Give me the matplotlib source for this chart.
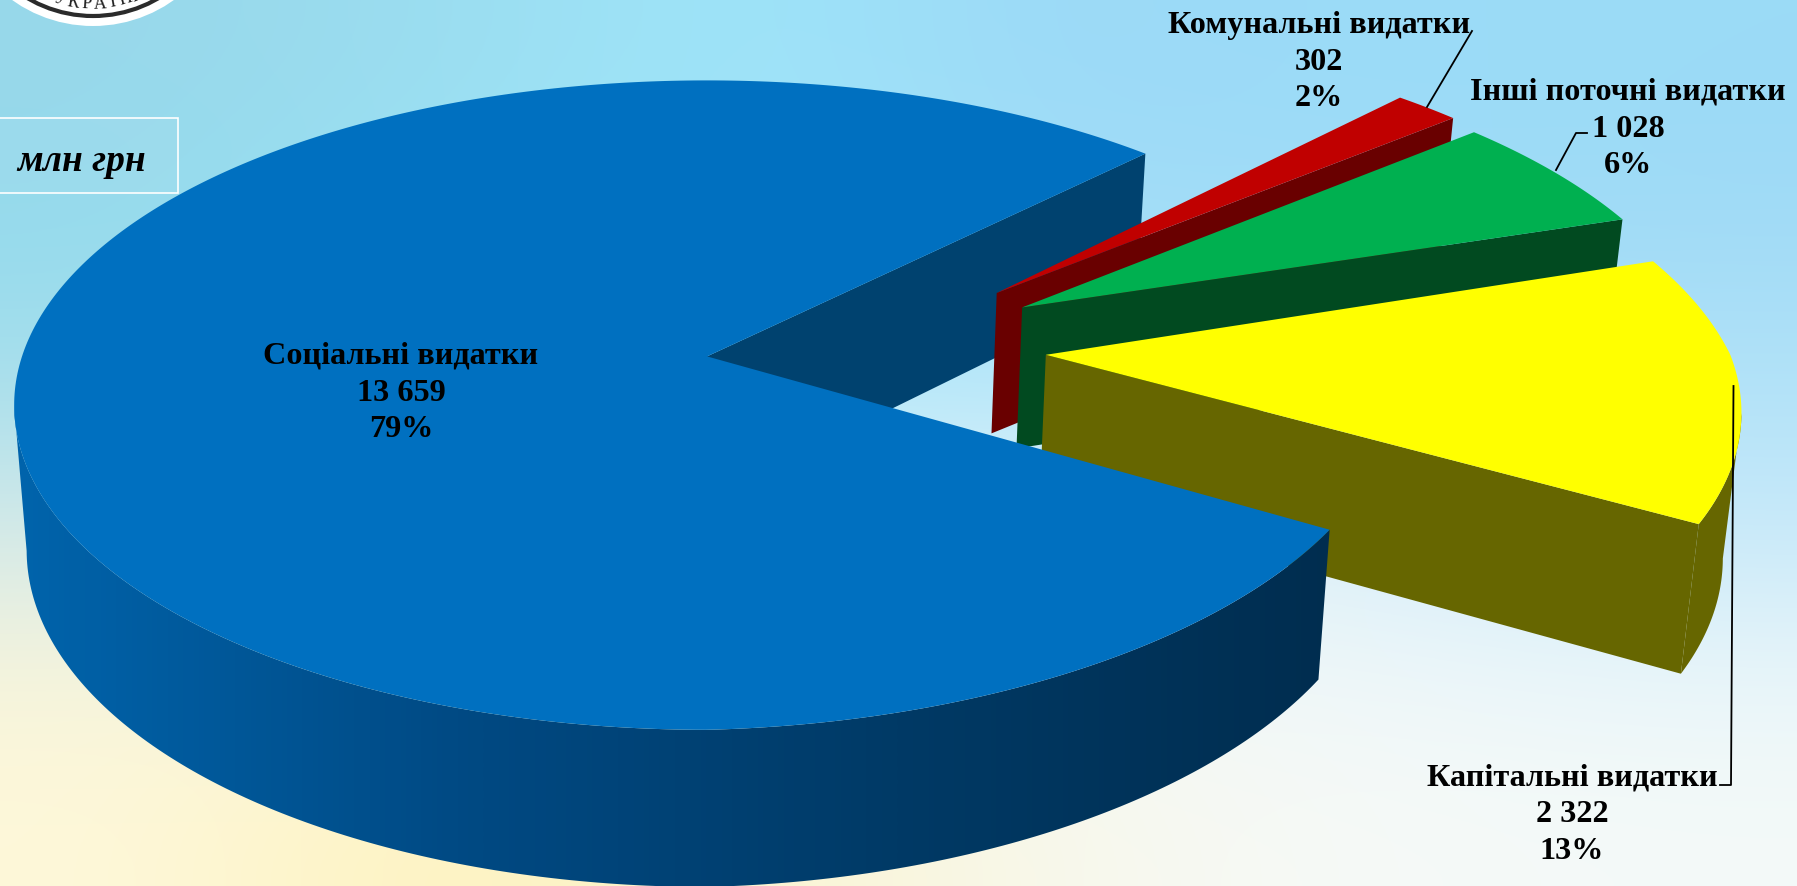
import numpy as np
from matplotlib import pyplot as plt
from matplotlib.colors import LinearSegmentedColormap, to_rgb
from matplotlib.patches import Circle, Polygon, Rectangle

categories = ['Соціальні видатки', 'Комунальні видатки', 'Інші поточні видатки', 'Капітальні видатки']
values = [13659, 302, 1028, 2322]
unit_label = 'млн грн'
logo_letters = ['У', 'К', 'Р', 'А', 'Ї', 'Н', 'И']

top_colors = ['#0070C0', '#C00000', '#00B050', '#FFFF00']
wall_colors = ['#00426F', '#690000', '#014A20', '#666600']
explode_x = [0, 0.436, 0.471, 0.495]
explode_y = [0, 0.206, 0.158, 0.005]
radius = [1, 1.018, 1.005, 1]
nudge = [0, 0.3, 0.3, 0.7]
label_pos = [(401, 393), (1319, 62), (1628, 129), (1572, 815)]

W, H = 1797, 886

# camera of the tilted pie, in pixels
cx, cy = 707, 356.4
a, s, k = 685, 317.4, 0.15


def project(X, Y, bottom=False):
    X = np.asarray(X, dtype=float)
    Yd = -np.asarray(Y, dtype=float)
    w = 1 - k * Yd
    x = cx + a * X / w
    y = cy + s * Yd / w
    if bottom:
        x = cx + (x - cx) * 0.982
        y = y + 143 / (1 - 0.09 * Yd)
    return x, y


def rim(i, t1, t2, bottom=False, n=120):
    t = np.deg2rad(np.linspace(t1, t2, n) + nudge[i])
    r = radius[i] * np.ones(n)
    if i in (0, 3):
        # lower right of these slices sits a bit inside the circle
        r = r - 0.045 * np.maximum(0, -np.sin(t)) * np.maximum(0, np.cos(t))
    return project(explode_x[i] + r * np.cos(t), explode_y[i] + r * np.sin(t), bottom)


def cut_face(i, angle, z):
    ox, oy = explode_x[i], explode_y[i]
    px, py = project(ox, oy)
    qx, qy = project(ox, oy, bottom=True)
    ex, ey = rim(i, angle, angle, n=1)
    fx, fy = rim(i, angle, angle, bottom=True, n=1)
    ax.fill([px, ex[0], fx[0], qx], [py, ey[0], fy[0], qy], color=wall_colors[i], lw=0, zorder=z)


fig = plt.figure(figsize=(W / 100, H / 100), dpi=100)
ax = fig.add_axes([0, 0, 1, 1])
ax.set_xlim(0, W)
ax.set_ylim(H, 0)
ax.axis('off')

bg_rows = [
    ['#98D8EA', '#9BDDF0', '#9FE6FA', '#9CD8F6', '#9BDCF8', '#9BDBF6'],
    ['#94DAEC', '#9BE4F6', '#A0E8FA', '#A4DCF8', '#9FDDF8', '#A0DAF6'],
    ['#A4DEEC', '#A6E6F6', '#B0E8FA', '#B4E6FA', '#AEE2F8', '#B0E2F8'],
    ['#D0E8EA', '#D8F0F2', '#DCF2F8', '#E0F2FA', '#D8EEF8', '#C4E8FA'],
    ['#F6F4DC', '#F8F6E0', '#F6F6EA', '#F2F8F6', '#EFF7FA', '#E8F5FA'],
    ['#FEF8DA', '#FEF2BC', '#FBF4D0', '#F8F8EC', '#F6FAF8', '#F4FAF8'],
]
bg = np.array([[to_rgb(c) for c in row] for row in bg_rows])
ax.imshow(bg, extent=(0, W, H, 0), aspect='auto', interpolation='bicubic', zorder=0)

# logo cut by the top edge
ax.add_patch(Circle((93, -113), 139, fc='white', ec='none', zorder=1))
ax.add_patch(Circle((93, -113), 129, fc='none', ec='#2B2B2B', lw=3, zorder=1))
for i, letter in enumerate(logo_letters):
    ang = 6.5 * (2.5 - i)
    lx = 93 - 117 * np.sin(np.deg2rad(ang))
    ly = -113 + 117 * np.cos(np.deg2rad(ang))
    ax.text(lx, ly, letter, family='Liberation Serif', fontsize=13, color='#222222',
            rotation=-ang, rotation_mode='anchor', ha='center', va='center', zorder=2)

total = sum(values)
sweep = [360 * v / total for v in values]
starts = np.empty(4)
starts[0] = -31
for i in range(1, 4):
    starts[i] = starts[i - 1] - sweep[i - 1]
ends = starts - np.array(sweep)

# far cut face of the big slice goes behind everything
cut_face(0, ends[0], 3)

for z, i in enumerate([1, 2, 3, 0]):
    base = 4 + z * 3
    tx, ty = rim(i, starts[i], ends[i], n=400 if i == 0 else 120)
    bx, by = rim(i, starts[i], ends[i], bottom=True, n=400 if i == 0 else 120)

    if i == 0:
        # near part of the outer wall, shaded left to right
        tan = np.argmin(tx)
        wall = Polygon(np.c_[np.r_[tx[:tan + 1], bx[:tan + 1][::-1]], np.r_[ty[:tan + 1], by[:tan + 1][::-1]]],
                       fc='none', ec='none', zorder=base)
        ax.add_patch(wall)
        shade = LinearSegmentedColormap.from_list('wall', ['#0064AC', '#004A84', '#003A66', '#002D4F'])
        im = ax.imshow(np.linspace(0, 1, 256)[None, :], cmap=shade, extent=(10, 1340, H, 0),
                       aspect='auto', interpolation='bilinear', zorder=base)
        im.set_clip_path(wall)
    else:
        tan = np.argmax(tx)
        ax.fill(np.r_[tx[tan:], bx[tan:][::-1]], np.r_[ty[tan:], by[tan:][::-1]],
                color=wall_colors[i], lw=0, zorder=base)
        cut_face(i, ends[i], base)

    ax0, ay0 = project(explode_x[i], explode_y[i])
    ax.fill(np.r_[ax0, tx], np.r_[ay0, ty], color=top_colors[i], lw=0, zorder=base + 1)

# labels
for name, v, pos in zip(categories, values, label_pos):
    txt = f"{name}\n{v:,}\n{round(100 * v / total)}%".replace(',', ' ')
    ax.text(pos[0], pos[1], txt, family='Liberation Serif', weight='bold', fontsize=23.2,
            color='black', ha='center', va='center', linespacing=1.35, zorder=30)

# leader lines
ax.plot([1472, 1427], [31, 107], color='black', lw=1.3, zorder=25)
ax.plot([1587, 1576, 1556], [133, 133, 170], color='black', lw=1.3, zorder=25)
ax.plot([1720, 1731, 1733.5], [785, 785, 386], color='black', lw=1.3, zorder=25)

# unit box
ax.add_patch(Rectangle((-5, 118), 183, 75, fc=(1, 1, 1, 0.05), ec='white', lw=1.2, zorder=25))
ax.text(82, 161, unit_label, family='Liberation Serif', weight='bold', style='italic', fontsize=27,
        color='black', ha='center', va='center', zorder=30)

fig.savefig('out.png', dpi=100)
